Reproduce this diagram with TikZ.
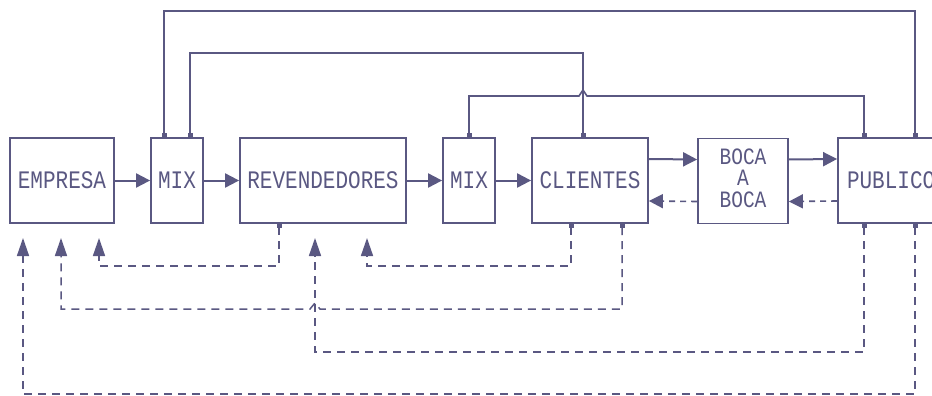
\documentclass[tikz,border=0pt]{standalone}
\usepackage{fontspec}
\setmonofont{Liberation Mono}
\usepackage{graphicx}
\usetikzlibrary{arrows.meta}
\definecolor{ink}{RGB}{90,88,130}
\newcommand\lbl[1]{\scalebox{1}[1.2]{#1}}
\begin{document}
\begin{tikzpicture}[x=1pt,y=-1pt,
  box/.style={draw=ink, line width=1.8pt, minimum height=85pt, inner sep=0pt, text=ink,
    font=\ttfamily\fontsize{21}{21}\selectfont},
  flow/.style={draw=ink, line width=2pt, -{Triangle[length=14pt,width=14pt]}},
  back/.style={draw=ink, line width=1.6pt, dash pattern=on 6pt off 5pt, -{Triangle[length=14pt,width=14pt]}},
  link/.style={draw=ink, line width=1.6pt, {Square[length=4pt,width=5pt]}-{Square[length=4pt,width=5pt]}},
  fb/.style={draw=ink, line width=1.5pt, dash pattern=on 8pt off 6pt, {Square[length=4pt,width=5pt]}-{Triangle[length=18pt,width=12pt]}},
]
\useasboundingbox (0,0) rectangle (932,396);
\clip (0,0) rectangle (932,396);
\fill[white] (0,0) rectangle (932,396);

% boxes
\node[box, minimum width=104pt] (emp) at (62,180.5) {\lbl{EMPRESA}};
\node[box, minimum width=52pt] (mix1) at (177,180.5) {\lbl{MIX}};
\node[box, minimum width=166pt] (rev) at (323,180.5) {\lbl{REVENDEDORES}};
\node[box, minimum width=52pt] (mix2) at (469,180.5) {\lbl{MIX}};
\node[box, minimum width=116pt] (cli) at (590,180.5) {\lbl{CLIENTES}};
\node[box, minimum width=90pt, font=\ttfamily\fontsize{19.5}{16.5}\selectfont] (boca) at (743,181) {\lbl{\begin{tabular}{@{}c@{}}BOCA\\A\\BOCA\end{tabular}}};
\node[box, minimum width=108pt, text width=90pt, inner xsep=9pt, align=left] (pub) at (892,180.5) {\lbl{PUBLICO}};

% forward flow
\draw[flow] (emp) -- (mix1);
\draw[flow] (mix1) -- (rev);
\draw[flow] (rev) -- (mix2);
\draw[flow] (mix2) -- (cli);
\draw[flow] ([yshift=21.5pt]cli.east) -- ([yshift=21.5pt]boca.west);
\draw[flow] ([yshift=21.5pt]boca.east) -- ([yshift=21.5pt]pub.west);
\draw[back] ([yshift=-20.5pt]boca.west) -- ([yshift=-20.5pt]cli.east);
\draw[back] ([yshift=-20.5pt]pub.west) -- ([yshift=-20.5pt]boca.east);

% top links
\coordinate (yA) at (0,11);
\coordinate (yB) at (0,53);
\coordinate (yC) at (0,96);
\coordinate (m1a) at ([xshift=-13pt]mix1.north);
\coordinate (m1b) at ([xshift=13pt]mix1.north);
\coordinate (m2t) at (mix2.north);
\coordinate (clit) at ([xshift=-7pt]cli.north);
\coordinate (pta) at ([xshift=-28pt]pub.north);
\coordinate (ptb) at ([xshift=23pt]pub.north);
\coordinate (hA) at (clit |- yC);
\draw[link] (m1a) -- (m1a |- yA) -| (ptb);
\draw[link] (m1b) -- (m1b |- yB) -| (clit);
\draw[link] (m2t) -- (m2t |- yC) -- ([xshift=-4pt]hA) -- ([yshift=6pt]hA) -- ([xshift=4pt]hA) -| (pta);

% feedback
\coordinate (yD) at (0,266);
\coordinate (yE) at (0,309);
\coordinate (yF) at (0,352);
\coordinate (yG) at (0,394);
\coordinate (t1) at (23,238);
\coordinate (t2) at (61,238);
\coordinate (t3) at (99,238);
\coordinate (t4) at (315,238);
\coordinate (t5) at (367,238);
\coordinate (rb) at ([xshift=-44pt]rev.south);
\coordinate (cb1) at ([xshift=-19pt]cli.south);
\coordinate (cb2) at ([xshift=32pt]cli.south);
\coordinate (pb1) at ([xshift=-28pt]pub.south);
\coordinate (pb2) at ([xshift=23pt]pub.south);
\coordinate (hB) at (t4 |- yE);
\draw[fb] (rb) -- (rb |- yD) -| (t3);
\draw[fb] (cb1) -- (cb1 |- yD) -| (t5);
\draw[fb] (cb2) -- (cb2 |- yE) -- ([xshift=5pt]hB) -- ([yshift=6pt]hB) -- ([xshift=-5pt]hB) -| (t2);
\draw[fb] (pb1) -- (pb1 |- yF) -| (t4);
\draw[fb] (pb2) -- (pb2 |- yG) -| (t1);
\end{tikzpicture}
\end{document}
